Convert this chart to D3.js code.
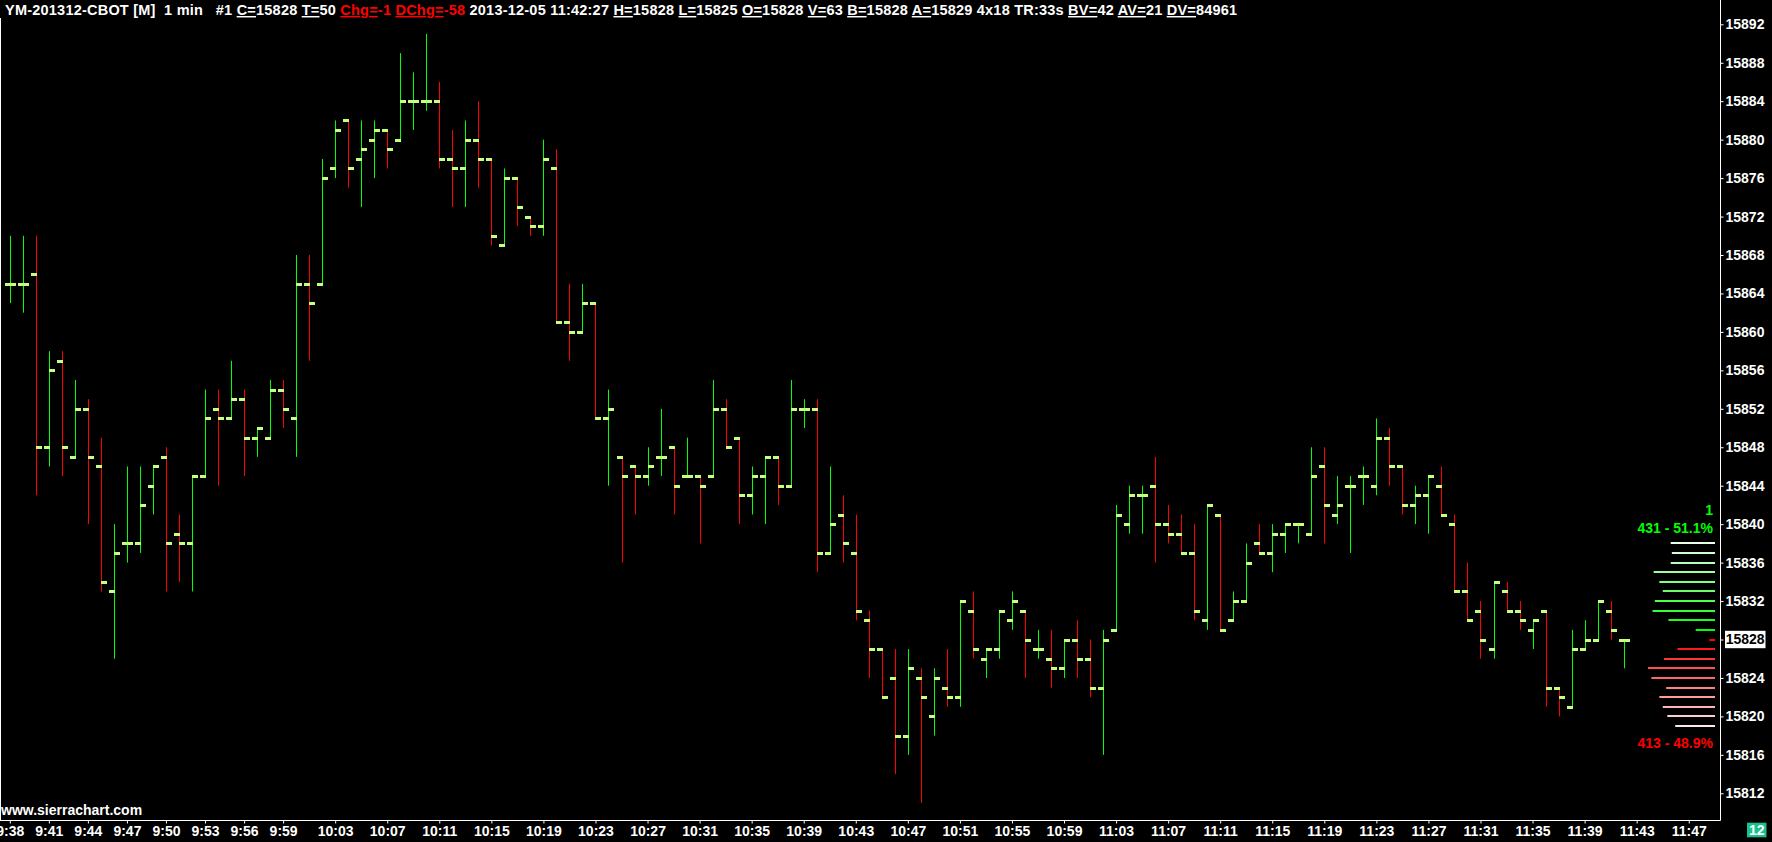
<!DOCTYPE html>
<html>
<head>
<meta charset="utf-8">
<script src="https://cdn.jsdelivr.net/npm/d3@7"></script>
<style>
  body { margin: 0; background: #000; overflow: hidden; }
  svg { display: block; }
  text { font-family: "Liberation Sans", Arial, sans-serif; font-weight: bold; font-size: 14px; fill: #fff; }
</style>
</head>
<body>
<div id="chart"></div>
<script>
// 1 min bars, first bar at 9:38
var startMinute = 9 * 60 + 38;
var opens  = [15865,15865,15866,15848,15857,15847,15852,15846,15833,15838,15838,15844,15847,15839,15838,15845,15852,15851,15853,15849,
              15849,15854,15851,15865,15865,15877,15882,15878,15880,15881,15880,15884,15884,15884,15878,15877,15880,15878,15869,15876,
              15872,15871,15877,15861,15860,15863,15851,15847,15846,15845,15847,15848,15845,15845,15845,15852,15849,15843,15845,15847,
              15844,15852,15852,15837,15841,15837,15830,15827,15824,15818,15824,15820,15823,15822,15831,15826,15827,15830,15831,15827,
              15826,15825,15828,15826,15823,15829,15840,15843,15844,15840,15839,15837,15830,15841,15830,15832,15838,15837,15839,15840,
              15839,15846,15841,15844,15845,15844,15849,15846,15842,15843,15844,15840,15833,15831,15827,15833,15831,15829,15831,15823,
              15821,15827,15828,15831,15828];
var highs  = [15870,15870,15870,15858,15858,15855,15853,15849,15840,15846,15846,15846,15848,15841,15845,15854,15854,15857,15854,15850,
              15855,15855,15868,15868,15878,15882,15882,15882,15882,15881,15889,15887,15891,15886,15881,15882,15884,15878,15877,15876,
              15872,15880,15879,15865,15865,15863,15854,15847,15846,15848,15852,15848,15849,15845,15855,15853,15849,15846,15847,15847,
              15855,15853,15853,15846,15843,15841,15831,15827,15827,15827,15825,15825,15827,15832,15833,15827,15831,15833,15831,15829,
              15829,15828,15830,15828,15829,15842,15844,15844,15847,15842,15841,15840,15842,15841,15833,15838,15840,15840,15840,15840,
              15848,15848,15845,15845,15846,15851,15850,15846,15844,15845,15846,15841,15836,15832,15834,15834,15832,15830,15831,15823,
              15829,15830,15832,15832,15828];
var lows   = [15863,15862,15843,15846,15845,15847,15840,15833,15826,15836,15837,15841,15833,15834,15833,15845,15844,15851,15845,15847,
              15849,15850,15847,15857,15865,15876,15875,15873,15876,15877,15880,15881,15883,15877,15873,15873,15875,15869,15869,15871,
              15870,15870,15861,15857,15860,15851,15844,15836,15841,15844,15845,15841,15845,15838,15845,15848,15840,15841,15840,15842,
              15844,15850,15835,15837,15836,15830,15824,15822,15814,15816,15811,15818,15821,15821,15826,15824,15826,15829,15824,15826,
              15823,15824,15824,15822,15816,15829,15839,15839,15836,15838,15837,15830,15829,15829,15830,15832,15837,15835,15837,15838,
              15839,15838,15840,15837,15842,15843,15844,15841,15840,15839,15841,15833,15830,15826,15826,15831,15829,15827,15821,15820,
              15821,15827,15828,15828,15825];
var closes = [15865,15865,15848,15856,15848,15852,15847,15834,15837,15838,15842,15846,15838,15838,15845,15851,15851,15853,15849,15850,
              15854,15852,15865,15863,15876,15881,15877,15879,15881,15879,15884,15884,15884,15878,15877,15880,15878,15870,15876,15873,
              15871,15878,15861,15860,15863,15851,15852,15845,15845,15846,15847,15844,15845,15844,15852,15848,15843,15845,15847,15844,
              15852,15852,15837,15840,15838,15831,15827,15822,15818,15825,15822,15824,15822,15832,15827,15827,15831,15832,15828,15827,
              15825,15828,15826,15823,15828,15841,15843,15843,15840,15839,15837,15831,15842,15829,15832,15836,15837,15839,15840,15840,
              15845,15842,15842,15844,15845,15849,15846,15842,15843,15845,15841,15833,15830,15828,15834,15831,15830,15830,15823,15822,
              15827,15828,15832,15829,15828];

var timeLabels = ["9:38","9:41","9:44","9:47","9:50","9:53","9:56","9:59","10:03","10:07","10:11","10:15","10:19","10:23",
                  "10:27","10:31","10:35","10:39","10:43","10:47","10:51","10:55","10:59","11:03","11:07","11:11","11:15",
                  "11:19","11:23","11:27","11:31","11:35","11:39","11:43","11:47"];
var priceTicks = [15812,15816,15820,15824,15828,15832,15836,15840,15844,15848,15852,15856,15860,15864,15868,15872,15876,
                  15880,15884,15888,15892];

// market depth at the right edge
var askPrices = [15829,15830,15831,15832,15833,15834,15835,15836,15837,15838];
var askQty    = [17,41,55,53,46,49,54,39,38,39];
var bidPrices = [15828,15827,15826,15825,15824,15823,15822,15821,15820,15819];
var bidQty    = [5,33,45,59,56,43,49,46,42,35];
var askLabels = ["1", "431 - 51.1%"];
var bidLabel  = "413 - 48.9%";
var lastPrice = 15828;
var timerText = "12";

var headerTitle = "YM-201312-CBOT [M]  1 min   #1 ";
var headerKeys   = ["C","T","Chg","DChg","","H","L","O","V","B","A","","BV","AV","DV"];
var headerValues = ["15828","50","-1","-58","2013-12-05 11:42:27","15828","15825","15828","63","15828","15829","4x18 TR:33s","42","21","84961"];
var headerRed    = ["Chg","DChg"];

var width = 1772, height = 842;
var plotRight = 1720.5, plotBottom = 820.5;

var svg = d3.select("#chart").append("svg")
    .attr("width", width)
    .attr("height", height);

svg.append("rect").attr("width", width).attr("height", height).attr("fill", "#000");

var xScale = d3.scaleLinear()
    .domain([0, 129])
    .range([9.8, 9.8 + 129 * 13.015]);

var yScale = d3.scaleLinear()
    .domain([15812, 15892])
    .range([793.3, 24.3]);

function toMinutes(s) {
  var p = s.split(":");
  return +p[0] * 60 + +p[1] - startMinute;
}

// frame lines
svg.append("line")
    .attr("x1", 0).attr("x2", plotRight).attr("y1", plotBottom).attr("y2", plotBottom)
    .attr("stroke", "#fff");
svg.append("line")
    .attr("x1", plotRight).attr("x2", plotRight).attr("y1", 0).attr("y2", plotBottom)
    .attr("stroke", "#fff");
svg.append("line")
    .attr("x1", 0.5).attr("x2", 0.5).attr("y1", 18).attr("y2", plotBottom)
    .attr("stroke", "#fff");

// axes
var xAxis = svg.append("g")
    .attr("class", "axis x--axis")
    .attr("transform", "translate(0," + plotBottom + ")")
    .style("color", "#fff")
    .call(d3.axisBottom(xScale)
      .tickValues(timeLabels.map(toMinutes))
      .tickFormat(function(d, i) { return timeLabels[i]; })
      .tickSize(3)
      .tickPadding(3));
xAxis.select(".domain").remove();

var yAxis = svg.append("g")
    .attr("class", "axis y--axis")
    .attr("transform", "translate(" + plotRight + ",0)")
    .style("color", "#fff")
    .call(d3.axisRight(yScale)
      .tickValues(priceTicks)
      .tickFormat(d3.format("d"))
      .tickSize(3)
      .tickPadding(2));
yAxis.select(".domain").remove();

// OHLC bars
var bars = svg.append("g").selectAll(".bar")
    .data(opens.map(function(o, i) {
      return {i: i, o: o, h: highs[i], l: lows[i], c: closes[i]};
    }))
    .enter().append("g")
    .attr("class", "bar");

bars.append("line")
    .attr("x1", function(d) { return Math.round(xScale(d.i)) + 0.5; })
    .attr("x2", function(d) { return Math.round(xScale(d.i)) + 0.5; })
    .attr("y1", function(d) { return yScale(d.h); })
    .attr("y2", function(d) { return yScale(d.l); })
    .attr("stroke", function(d) { return d.c >= d.o ? "#00ff00" : "#ff0000"; })
    .attr("stroke-width", 1);

bars.append("rect")
    .attr("x", function(d) { return Math.round(xScale(d.i)) - 5; })
    .attr("y", function(d) { return Math.round(yScale(d.o)) - 1; })
    .attr("width", 6)
    .attr("height", 3)
    .attr("fill", "#c4ff80");

bars.append("rect")
    .attr("x", function(d) { return Math.round(xScale(d.i)); })
    .attr("y", function(d) { return Math.round(yScale(d.c)) - 1; })
    .attr("width", 6)
    .attr("height", 3)
    .attr("fill", "#c4ff80");

// depth lines
var domRight = 1715;
var qtyScale = d3.scaleLinear()
    .domain([0, d3.max(askQty.concat(bidQty))])
    .range([0, 67]);

var askCol = d3.scaleLinear().domain([0, askPrices.length - 1]).range(["#00ff00", "#eaffea"]).interpolate(d3.interpolateRgb);
var bidCol = d3.scaleLinear().domain([0, bidPrices.length - 1]).range(["#ff0000", "#ffe8e8"]).interpolate(d3.interpolateRgb);

svg.append("g").selectAll("rect")
    .data(askPrices)
    .enter().append("rect")
    .attr("x", function(d, i) { return domRight - qtyScale(askQty[i]); })
    .attr("y", function(d) { return Math.round(yScale(d)) - 1; })
    .attr("width", function(d, i) { return qtyScale(askQty[i]); })
    .attr("height", 2)
    .attr("fill", function(d, i) { return askCol(i); });

svg.append("g").selectAll("rect")
    .data(bidPrices)
    .enter().append("rect")
    .attr("x", function(d, i) { return domRight - qtyScale(bidQty[i]); })
    .attr("y", function(d) { return Math.round(yScale(d)) - 1; })
    .attr("width", function(d, i) { return qtyScale(bidQty[i]); })
    .attr("height", 2)
    .attr("fill", function(d, i) { return bidCol(i); });

svg.append("text")
    .attr("x", 1713).attr("y", yScale(d3.max(askPrices)) - 28)
    .attr("text-anchor", "end")
    .style("fill", "#00ff00")
    .text(askLabels[0]);
svg.append("text")
    .attr("x", 1713).attr("y", yScale(d3.max(askPrices)) - 10)
    .attr("text-anchor", "end")
    .style("fill", "#00ff00")
    .text(askLabels[1]);
svg.append("text")
    .attr("x", 1713).attr("y", yScale(d3.min(bidPrices)) + 22)
    .attr("text-anchor", "end")
    .style("fill", "#ff0000")
    .text(bidLabel);

// last price box on the scale
var lastY = yScale(lastPrice);
svg.append("rect")
    .attr("x", 1725).attr("y", lastY - 8.7)
    .attr("width", 40.5).attr("height", 17.4)
    .attr("fill", "#fff");
svg.append("text")
    .attr("x", 1725.7).attr("y", lastY)
    .attr("dy", "0.34em")
    .style("fill", "#000")
    .text(lastPrice);

// bar timer box
svg.append("rect")
    .attr("x", 1747).attr("y", 822.7)
    .attr("width", 19.5).attr("height", 14.6)
    .attr("fill", "#19c28a");
svg.append("text")
    .attr("x", 1756.8).attr("y", 835)
    .attr("text-anchor", "middle")
    .text(timerText);

svg.append("text")
    .attr("x", 1).attr("y", 815)
    .text("www.sierrachart.com");

// header line
var header = svg.append("text")
    .attr("x", 5).attr("y", 15)
    .style("white-space", "pre")
    .style("font-size", "14.5px")
    .style("letter-spacing", "0.22px");
header.append("tspan").text(headerTitle);
headerKeys.forEach(function(k, i) {
  var col = headerRed.indexOf(k) !== -1 ? "#ff0000" : "#fff";
  if (k !== "") {
    header.append("tspan")
      .style("fill", col)
      .style("text-decoration", "underline")
      .text(k + "=");
  }
  header.append("tspan")
    .style("fill", col)
    .text(headerValues[i] + (i < headerKeys.length - 1 ? " " : ""));
});
</script>
</body>
</html>
